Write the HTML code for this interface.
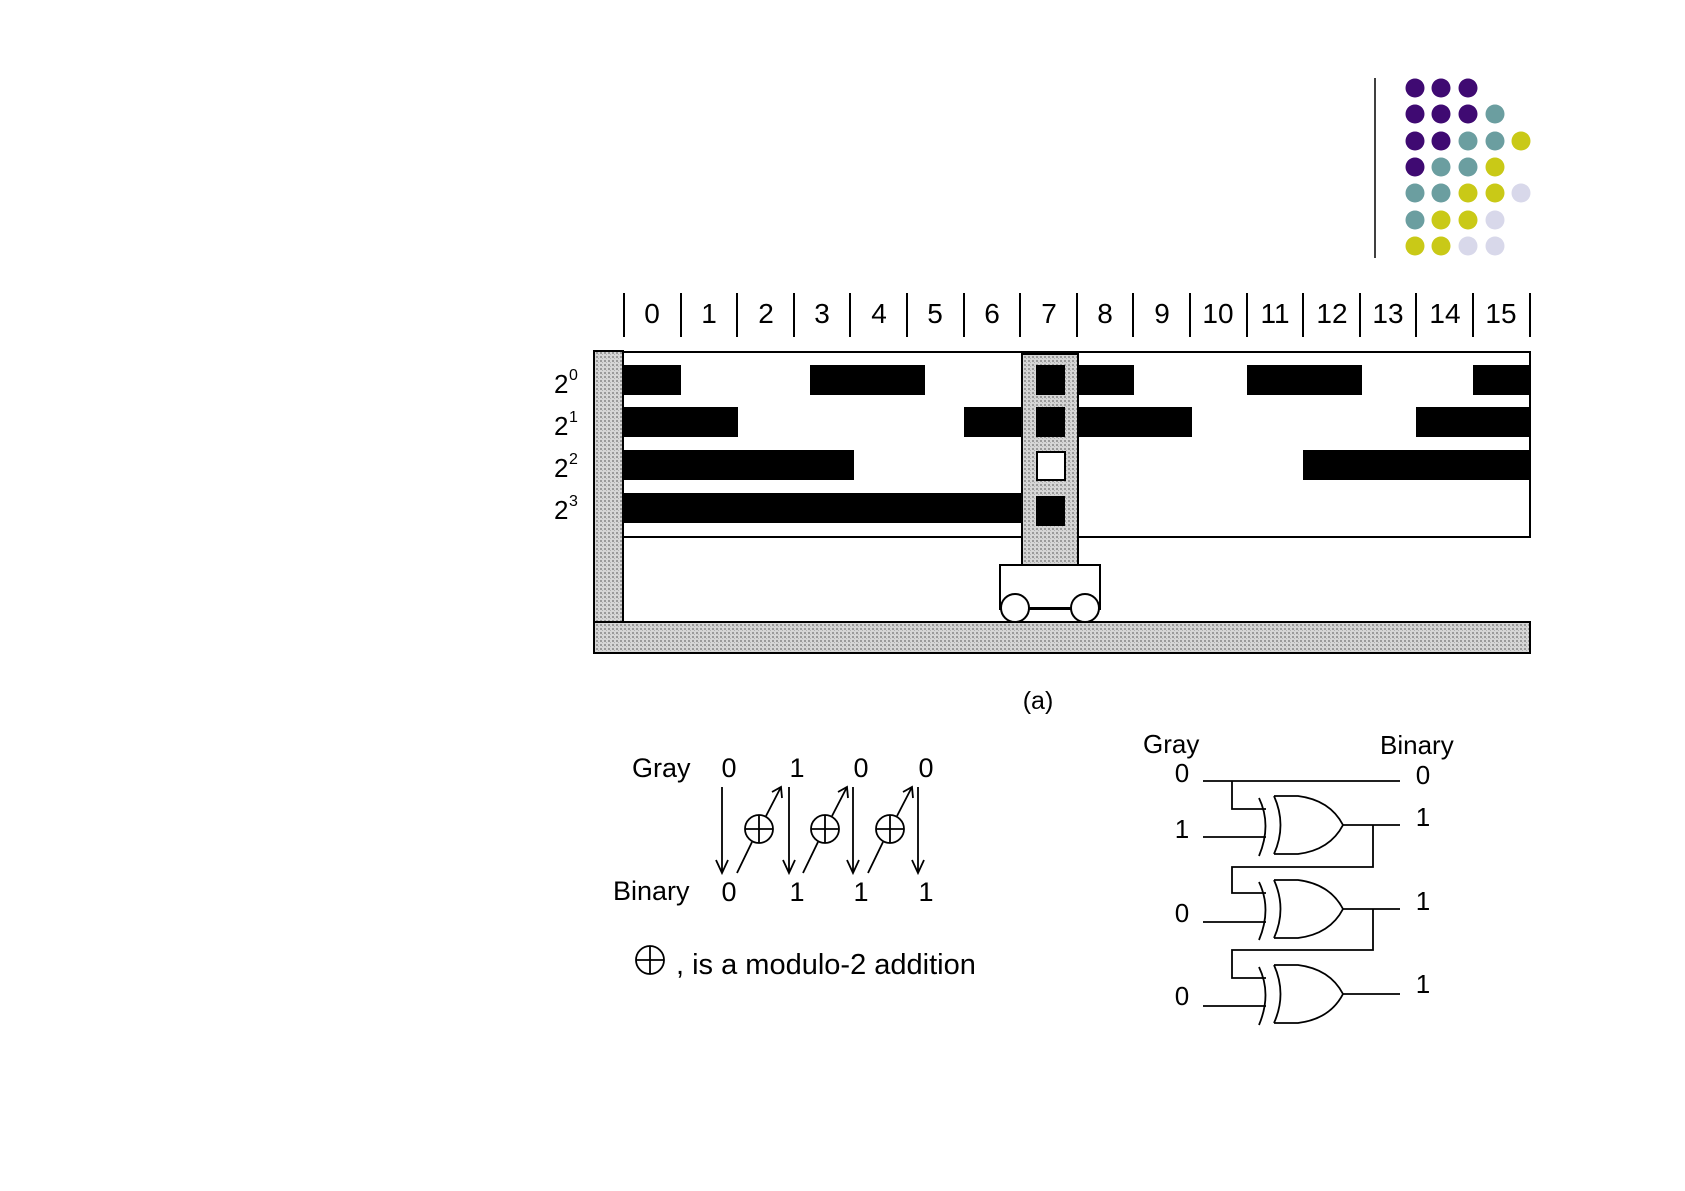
<!DOCTYPE html>
<html><head><meta charset="utf-8"><style>
html,body{margin:0;padding:0;background:#fff;}
svg{display:block;}
text{font-family:"Liberation Sans",Arial,sans-serif;fill:#000;}
</style></head><body>
<svg width="1685" height="1191" viewBox="0 0 1685 1191" xmlns="http://www.w3.org/2000/svg">
<defs>
<pattern id="dots" width="4" height="4" patternUnits="userSpaceOnUse">
<rect width="4" height="4" fill="#d6d6d6"/><rect width="2" height="2" fill="#9a9a9a"/><rect x="2" y="2" width="1" height="1" fill="#b0b0b0"/>
</pattern>
</defs>
<!-- dot matrix -->
<line x1="1375" y1="78" x2="1375" y2="258" stroke="#000" stroke-width="1.5"/>
<g>
<circle cx="1415" cy="88" r="9.5" fill="#3f0a72"/><circle cx="1441" cy="88" r="9.5" fill="#3f0a72"/><circle cx="1468" cy="88" r="9.5" fill="#3f0a72"/>
<circle cx="1415" cy="114" r="9.5" fill="#3f0a72"/><circle cx="1441" cy="114" r="9.5" fill="#3f0a72"/><circle cx="1468" cy="114" r="9.5" fill="#3f0a72"/><circle cx="1495" cy="114" r="9.5" fill="#6b9ea0"/>
<circle cx="1415" cy="141" r="9.5" fill="#3f0a72"/><circle cx="1441" cy="141" r="9.5" fill="#3f0a72"/><circle cx="1468" cy="141" r="9.5" fill="#6b9ea0"/><circle cx="1495" cy="141" r="9.5" fill="#6b9ea0"/><circle cx="1521" cy="141" r="9.5" fill="#c9c917"/>
<circle cx="1415" cy="167" r="9.5" fill="#3f0a72"/><circle cx="1441" cy="167" r="9.5" fill="#6b9ea0"/><circle cx="1468" cy="167" r="9.5" fill="#6b9ea0"/><circle cx="1495" cy="167" r="9.5" fill="#c9c917"/>
<circle cx="1415" cy="193" r="9.5" fill="#6b9ea0"/><circle cx="1441" cy="193" r="9.5" fill="#6b9ea0"/><circle cx="1468" cy="193" r="9.5" fill="#c9c917"/><circle cx="1495" cy="193" r="9.5" fill="#c9c917"/><circle cx="1521" cy="193" r="9.5" fill="#d8d8ea"/>
<circle cx="1415" cy="220" r="9.5" fill="#6b9ea0"/><circle cx="1441" cy="220" r="9.5" fill="#c9c917"/><circle cx="1468" cy="220" r="9.5" fill="#c9c917"/><circle cx="1495" cy="220" r="9.5" fill="#d8d8ea"/>
<circle cx="1415" cy="246" r="9.5" fill="#c9c917"/><circle cx="1441" cy="246" r="9.5" fill="#c9c917"/><circle cx="1468" cy="246" r="9.5" fill="#d8d8ea"/><circle cx="1495" cy="246" r="9.5" fill="#d8d8ea"/>
</g>

<!-- column ticks and numbers -->
<g stroke="#000" stroke-width="2">
<line x1="624" y1="293" x2="624" y2="337"/><line x1="681" y1="293" x2="681" y2="337"/><line x1="737" y1="293" x2="737" y2="337"/><line x1="794" y1="293" x2="794" y2="337"/><line x1="850" y1="293" x2="850" y2="337"/><line x1="907" y1="293" x2="907" y2="337"/><line x1="964" y1="293" x2="964" y2="337"/><line x1="1020" y1="293" x2="1020" y2="337"/><line x1="1077" y1="293" x2="1077" y2="337"/><line x1="1133" y1="293" x2="1133" y2="337"/><line x1="1190" y1="293" x2="1190" y2="337"/><line x1="1247" y1="293" x2="1247" y2="337"/><line x1="1303" y1="293" x2="1303" y2="337"/><line x1="1360" y1="293" x2="1360" y2="337"/><line x1="1416" y1="293" x2="1416" y2="337"/><line x1="1473" y1="293" x2="1473" y2="337"/><line x1="1530" y1="293" x2="1530" y2="337"/>
</g>
<g font-size="28" text-anchor="middle">
<text x="652" y="323">0</text><text x="709" y="323">1</text><text x="766" y="323">2</text><text x="822" y="323">3</text><text x="879" y="323">4</text><text x="935" y="323">5</text><text x="992" y="323">6</text><text x="1049" y="323">7</text><text x="1105" y="323">8</text><text x="1162" y="323">9</text><text x="1218" y="323">10</text><text x="1275" y="323">11</text><text x="1332" y="323">12</text><text x="1388" y="323">13</text><text x="1445" y="323">14</text><text x="1501" y="323">15</text>
</g>

<!-- frame -->
<rect x="623" y="352" width="907" height="185" fill="#fff" stroke="#000" stroke-width="2"/>
<rect x="594" y="351" width="29" height="300" fill="url(#dots)" stroke="#000" stroke-width="2"/>
<rect x="594" y="622" width="936" height="31" fill="url(#dots)" stroke="#000" stroke-width="2"/>

<!-- bars -->
<g fill="#000">
<rect x="624" y="365" width="57" height="30"/><rect x="810" y="365" width="115" height="30"/><rect x="1077" y="365" width="57" height="30"/><rect x="1247" y="365" width="115" height="30"/><rect x="1473" y="365" width="57" height="30"/>
<rect x="624" y="407" width="114" height="30"/><rect x="964" y="407" width="58" height="30"/><rect x="1077" y="407" width="115" height="30"/><rect x="1416" y="407" width="114" height="30"/>
<rect x="624" y="450" width="230" height="30"/><rect x="1303" y="450" width="227" height="30"/>
<rect x="624" y="493" width="398" height="30"/>
</g>

<!-- carriage -->
<rect x="1022" y="354" width="56" height="211" fill="url(#dots)" stroke="#000" stroke-width="2"/>
<rect x="1036" y="365" width="29" height="30" fill="#000"/>
<rect x="1036" y="407" width="29" height="30" fill="#000"/>
<rect x="1037" y="452" width="28" height="28" fill="#fff" stroke="#000" stroke-width="2"/>
<rect x="1036" y="496" width="29" height="30" fill="#000"/>
<rect x="1000" y="565" width="100" height="44" fill="#fff" stroke="#000" stroke-width="2"/>
<line x1="1015" y1="608" x2="1085" y2="608" stroke="#000" stroke-width="2"/>
<circle cx="1015" cy="608" r="14" fill="#fff" stroke="#000" stroke-width="2"/>
<circle cx="1085" cy="608" r="14" fill="#fff" stroke="#000" stroke-width="2"/>

<!-- row labels -->
<g font-size="26">
<text x="554" y="393">2</text><text x="569" y="380" font-size="16">0</text>
<text x="554" y="435">2</text><text x="569" y="422" font-size="16">1</text>
<text x="554" y="477">2</text><text x="569" y="464" font-size="16">2</text>
<text x="554" y="519">2</text><text x="569" y="506" font-size="16">3</text>
</g>
<text x="1038" y="709" font-size="25" text-anchor="middle">(a)</text>

<!-- left conversion -->
<g font-size="27">
<text x="632" y="777">Gray</text>
<text x="613" y="900">Binary</text>
<text x="729" y="777" text-anchor="middle">0</text><text x="797" y="777" text-anchor="middle">1</text><text x="861" y="777" text-anchor="middle">0</text><text x="926" y="777" text-anchor="middle">0</text>
<text x="729" y="901" text-anchor="middle">0</text><text x="797" y="901" text-anchor="middle">1</text><text x="861" y="901" text-anchor="middle">1</text><text x="926" y="901" text-anchor="middle">1</text>
</g>
<g stroke="#000" stroke-width="1.8" fill="none">
<path d="M722 787 V873 M716 860 L722 873 L728 860"/>
<path d="M789 787 V873 M783 860 L789 873 L795 860"/>
<path d="M853 787 V873 M847 860 L853 873 L859 860"/>
<path d="M918 787 V873 M912 860 L918 873 L924 860"/>
<circle cx="759" cy="829" r="14"/><path d="M745 829 H773 M759 815 V843"/>
<circle cx="825" cy="829" r="14"/><path d="M811 829 H839 M825 815 V843"/>
<circle cx="890" cy="829" r="14"/><path d="M876 829 H904 M890 815 V843"/>
<path d="M737 873 L752 842 M766 816 L781 787 M772 792 L781 787 L782 798"/>
<path d="M803 873 L818 842 M832 816 L847 787 M838 792 L847 787 L848 798"/>
<path d="M868 873 L883 842 M897 816 L912 787 M903 792 L912 787 L913 798"/>
<circle cx="650" cy="960" r="14"/><path d="M636 960 H664 M650 946 V974"/>
</g>
<text x="676" y="974" font-size="29">, is a modulo-2 addition</text>

<!-- right circuit -->
<g font-size="26">
<text x="1143" y="753">Gray</text>
<text x="1380" y="754">Binary</text>
<text x="1182" y="782" text-anchor="middle">0</text><text x="1423" y="784" text-anchor="middle">0</text>
<text x="1182" y="838" text-anchor="middle">1</text><text x="1423" y="826" text-anchor="middle">1</text>
<text x="1182" y="922" text-anchor="middle">0</text><text x="1423" y="910" text-anchor="middle">1</text>
<text x="1182" y="1005" text-anchor="middle">0</text><text x="1423" y="993" text-anchor="middle">1</text>
</g>
<g stroke="#000" stroke-width="1.8" fill="none">
<path d="M1203 781 H1400 M1232 781 V809 H1266 M1203 837 H1266"/>
<path d="M1343 825 H1400 M1373 825 V867 H1232 V893 H1266 M1203 922 H1266"/>
<path d="M1343 909 H1400 M1373 909 V950 H1232 V978 H1266 M1203 1006 H1266"/>
<path d="M1343 994 H1400"/>
<path d="M1274 796 Q1287 825 1274 854 M1274 796 H1298 Q1330 800 1343 825 Q1330 850 1298 854 H1274"/>
<path d="M1259 798 Q1272 825 1259 856"/>
<path d="M1274 880 Q1287 909 1274 938 M1274 880 H1298 Q1330 884 1343 909 Q1330 934 1298 938 H1274"/>
<path d="M1259 882 Q1272 909 1259 940"/>
<path d="M1274 965 Q1287 994 1274 1023 M1274 965 H1298 Q1330 969 1343 994 Q1330 1019 1298 1023 H1274"/>
<path d="M1259 967 Q1272 994 1259 1025"/>
</g>
</svg>
</body></html>
